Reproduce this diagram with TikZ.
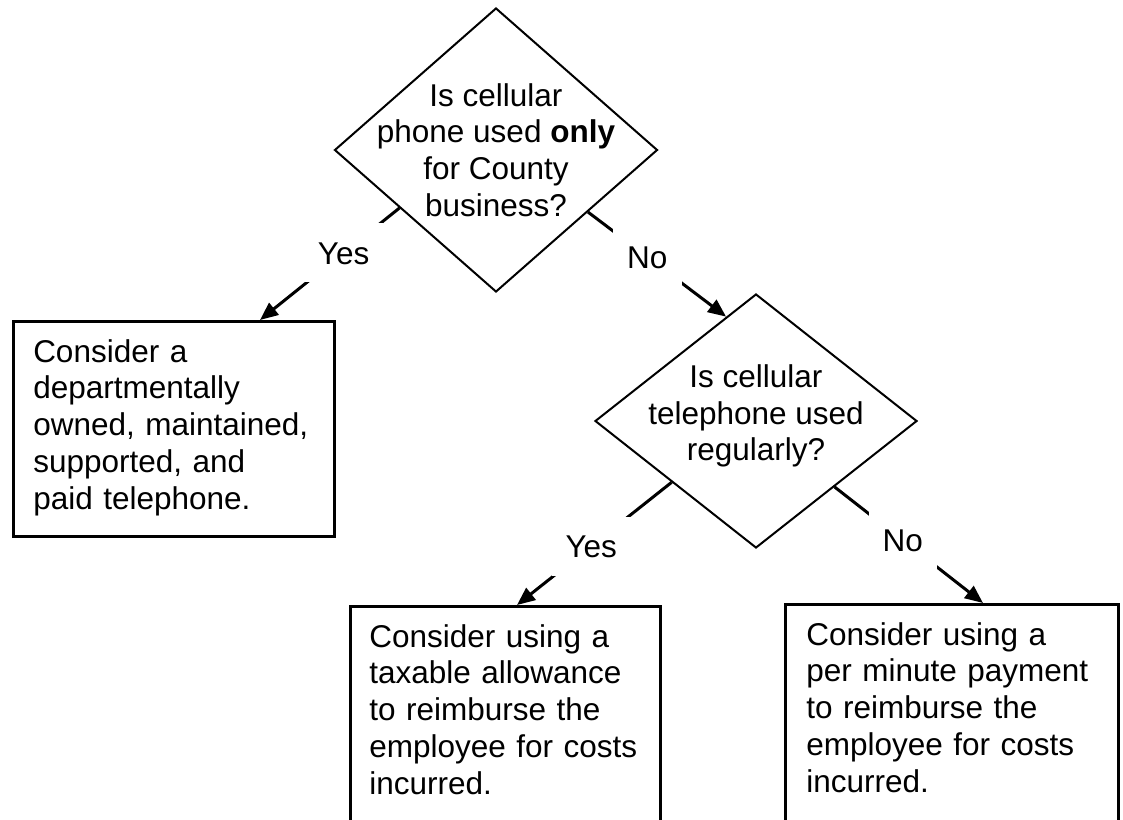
\documentclass[tikz,border=0pt]{standalone}
\usepackage{fontspec}
\setmainfont{Liberation Sans}
\usetikzlibrary{shapes.geometric,arrows.meta}
\begin{document}
\begin{tikzpicture}[x=0.5pt,y=-0.5pt,font=\fontsize{15.75}{18.4}\selectfont,
    decision/.style={diamond,draw=black,line width=1pt,inner sep=0pt},
    answer/.style={rectangle,draw=black,line width=1.25pt,anchor=north west,align=left,inner xsep=10.5pt,inner ysep=9pt},
    link/.style={draw=black,line width=1.5pt,-{Triangle[length=9pt,width=7.5pt]}},
    choice/.style={fill=white,inner xsep=7pt,inner ysep=9pt,text height=11.5pt,text depth=0pt}]
      \useasboundingbox (0,0) rectangle (1123,819);
      \node[decision,minimum width=161.5pt,minimum height=142pt,label={[align=center]center:Is cellular\\phone used \textbf{only}\\for County\\business?}] (q1) at (496,150) {};
      \node[decision,minimum width=161pt,minimum height=127pt,label={[align=center,yshift=2.5pt]center:Is cellular\\telephone used\\regularly?}] (q2) at (756,421) {};
      \node[answer,text width=140.5pt,inner xsep=10pt,text depth=78.3pt] (a1) at (12,320) {Consider a\\departmentally\\owned, maintained,\\supported, and\\paid telephone.};
      \node[answer,text width=136pt,inner xsep=9.5pt,text depth=85.6pt] (a2) at (349,605) {Consider using a\\taxable allowance\\to reimburse the\\employee for costs\\incurred.};
      \node[answer,text width=145.5pt,text depth=85.6pt] (a3) at (784,603) {Consider using a\\per minute payment\\to reimburse the\\employee for costs\\incurred.};
      \draw[link] (q1.211.6) -- node[choice,pos=.4] {Yes} ([xshift=124pt]a1.north west);
      \draw[link] (q1.326.7) -- node[choice,pos=.43] {No} (q2.106.45);
      \draw[link] (q2.216.4) -- node[choice,pos=.52] {Yes} ([xshift=84pt]a2.north west);
      \draw[link] (q2.320.8) -- node[choice,pos=.46] {No} ([xshift=99.5pt]a3.north west);
\end{tikzpicture}
\end{document}
